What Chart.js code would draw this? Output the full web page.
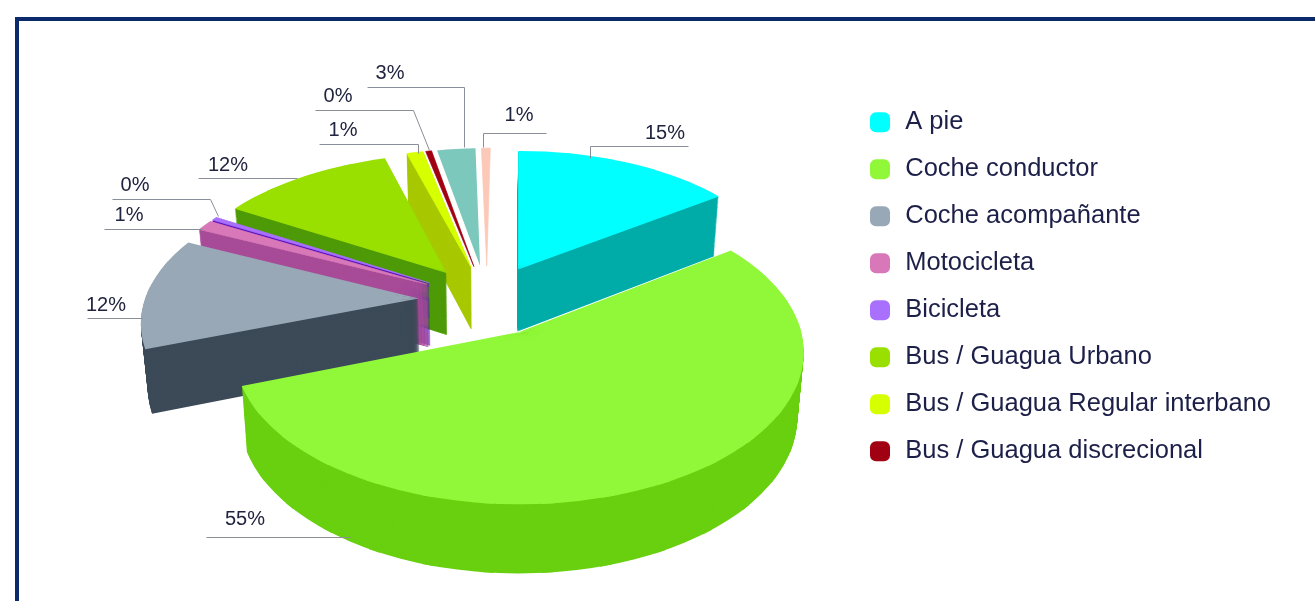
<!DOCTYPE html>
<html>
<head>
<meta charset="utf-8">
<style>
  html,body{margin:0;padding:0;background:#fff;overflow:hidden}
  #wrap{position:absolute;left:0;top:0;width:1315px;height:601px}
  #frame{position:absolute;left:15px;top:17px;right:0;bottom:0;border-top:4px solid #0b2a6b;border-left:4px solid #0b2a6b}
  canvas{position:absolute;left:0;top:0}
</style>
<script src="https://cdn.jsdelivr.net/npm/chart.js@4"></script>
</head>
<body>
<div id="wrap"><div id="frame"></div><canvas id="c" width="1315" height="601"></canvas></div>
<script>
const LABELS = ['A pie','Coche conductor','Coche acompañante','Motocicleta','Bicicleta','Bus / Guagua Urbano','Bus / Guagua Regular interbano','Bus / Guagua discrecional','Otros','Resto']
const VALUES = [15, 54.4, 12.49, 1.2, 0.4, 11.8, 1.1, 0.4, 2.6, 0.6]
const PCT_TEXT = ['15%','55%','12%','1%','0%','12%','1%','0%','3%','1%']
const TOP_COLORS = ['#00ffff','#90f838','#98a8b6','#d878b8','#a870fc','#99e000','#d6ff00','#a00012','#7cc8bc','#fcc8b8']
const WALL_COLORS = ['#00aca8','#69d010','#3c4a58','#a84c98','#6018c0','#4e9a08','#a8c800',null,null,null]
const LEGEND_COUNT = 8

// back to front
const DRAW_ORDER = [0,9,8,7,6,5,4,3,2,1]

// leader lines and label spots, same order as the slices
const LEADERS = [
  [[590,158],[590,146],[688,146]],
  [[350,537],[206,537]],
  [[142,318],[87,318]],
  [[203,229],[104,229]],
  [[218,216],[210,199],[112,199]],
  [[297,178],[198,178]],
  [[418,153],[418,144],[319,144]],
  [[429,150],[413,110],[315,110]],
  [[464,147],[464,87],[367,87]],
  [[483,147],[483,133],[546,133]]
]
const TEXT_POS = [[665,133],[245,519],[106,305],[129,215],[135,185],[228,165],[343,130],[338,96],[390,73],[519,115]]

// ground plane to screen
const CX=487, CY=300, F=274, QY=0.515, PERSP=0.129, SKEW=0.015, EXPLODE=0.25
const DEPTH=63
const PIECE=0.2

function project(X,Y){
  const w=1-PERSP*Y
  return [CX+F*(X-SKEW*Y)/w, CY+F*QY*Y/w]
}

// canvas has no perspective, so each arc is drawn in narrow pieces, each with its own flat transform
function applyPiece(ctx,arc,a1,a2,ox,oy){
  const r=arc.outerRadius
  const p0=project(ox,oy)
  const p1=project(ox+Math.cos(a1),oy+Math.sin(a1))
  const p2=project(ox+Math.cos(a2),oy+Math.sin(a2))
  const ux=r*Math.cos(a1), uy=r*Math.sin(a1), vx=r*Math.cos(a2), vy=r*Math.sin(a2)
  const det=ux*vy-uy*vx
  const e1x=p1[0]-p0[0], e1y=p1[1]-p0[1], e2x=p2[0]-p0[0], e2y=p2[1]-p0[1]
  ctx.transform(
    (e1x*vy-e2x*uy)/det, (e1y*vy-e2y*uy)/det,
    (e2x*ux-e1x*vx)/det, (e2y*ux-e1y*vx)/det,
    p0[0], p0[1])
  ctx.translate(-arc.x,-arc.y)
}

function drawSlice(ctx,arc,wallT){
  const start=arc.startAngle, end=arc.endAngle, circ=arc.circumference, mid=start+circ/2
  const ox=EXPLODE*Math.cos(mid), oy=EXPLODE*Math.sin(mid)
  const n=Math.max(1,Math.ceil(circ/PIECE))
  for(let i=0;i<n;i++){
    // pieces overlap a little, otherwise hairlines show between them
    const a1=start+circ*i/n, a2=Math.min(end,start+circ*(i+1)/n+0.04)
    arc.startAngle=a1; arc.endAngle=a2; arc.circumference=a2-a1
    ctx.save()
    if(wallT>0){
      const sx=1-0.02*wallT, sy=1+0.03*wallT
      ctx.transform(sx,0,0,sy,CX*(1-sx),CY*(1-sy)+DEPTH*wallT)
    }
    applyPiece(ctx,arc,a1,a2,ox,oy)
    arc.draw(ctx)
    ctx.restore()
  }
  arc.startAngle=start; arc.endAngle=end; arc.circumference=circ
}

const pie3d = {
  id:'pie3d',
  beforeDatasetsDraw(chart){
    const ctx=chart.ctx, arcs=chart.getDatasetMeta(0).data
    DRAW_ORDER.forEach(i=>{
      const arc=arcs[i], top=arc.options.backgroundColor
      arc.options.borderWidth=VALUES[i]<2?1:0
      if(WALL_COLORS[i]){
        arc.options.backgroundColor=WALL_COLORS[i]
        arc.options.borderColor=WALL_COLORS[i]
        for(let k=DEPTH;k>0;k--) drawSlice(ctx,arc,k/DEPTH)
        arc.options.backgroundColor=top
      }
      arc.options.borderColor=top
      drawSlice(ctx,arc,0)
    })
    return false
  },
  afterDraw(chart){
    const ctx=chart.ctx
    ctx.save()
    ctx.strokeStyle='#8a8e98'
    ctx.lineWidth=1
    LEADERS.forEach(pts=>{
      ctx.beginPath()
      pts.forEach((p,i)=> i? ctx.lineTo(p[0]+.5,p[1]+.5) : ctx.moveTo(p[0]+.5,p[1]+.5))
      ctx.stroke()
    })
    ctx.fillStyle='#20243f'
    ctx.font='20px "Liberation Sans"'
    ctx.textAlign='center'
    ctx.textBaseline='middle'
    PCT_TEXT.forEach((t,i)=>ctx.fillText(t,TEXT_POS[i][0],TEXT_POS[i][1]))
    ctx.restore()
  }
}

new Chart(document.getElementById('c'),{
  type:'pie',
  data:{labels:LABELS,datasets:[{data:VALUES,backgroundColor:TOP_COLORS,borderWidth:0}]},
  options:{
    responsive:false,animation:false,
    layout:{padding:{top:88,right:34}},
    plugins:{
      tooltip:{enabled:false},
      legend:{
        position:'right',align:'start',
        labels:{
          color:'#1c1f48',
          font:{family:'"Liberation Sans"',size:25.5},
          usePointStyle:true,pointStyle:'rectRounded',
          boxWidth:25,boxHeight:16.5,padding:21.5,
          filter:item=>item.index<LEGEND_COUNT
        }
      }
    }
  },
  plugins:[pie3d]
})
</script>
</body>
</html>
